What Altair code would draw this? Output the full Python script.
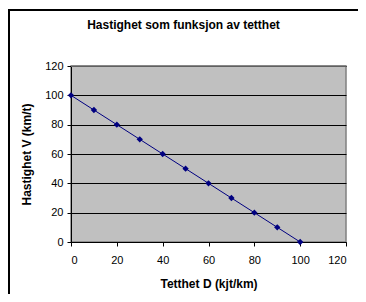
import altair as alt
import pandas as pd

density = [0, 10, 20, 30, 40, 50, 60, 70, 80, 90, 100]
speed = [100, 90, 80, 70, 60, 50, 40, 30, 20, 10, 0]
ticks = [0, 20, 40, 60, 80, 100, 120]

df = pd.DataFrame({"D": density, "V": speed})

FONT = "Liberation Sans"
NAVY = "#000080"

xscale = alt.Scale(domain=[0, 120], nice=False)
yscale = alt.Scale(domain=[0, 120], nice=False)

xenc = alt.X("D:Q", scale=xscale,
             axis=alt.Axis(values=ticks, title="Tetthet D (kjt/km)", grid=False,
                           domainColor="black", tickColor="black", tickSize=4,
                           labelFont=FONT, labelFontSize=11, labelColor="black",
                           labelPadding=8, labelOverlap=False, titleFont=FONT,
                           titleFontSize=12, titleFontWeight="bold",
                           titleColor="black", titlePadding=13))
yenc = alt.Y("V:Q", scale=yscale,
             axis=alt.Axis(values=ticks, title="Hastighet V (km/t)", grid=True,
                           gridColor="black", gridWidth=1, gridOpacity=1,
                           domainColor="black", tickColor="black", tickSize=4,
                           labelFont=FONT, labelFontSize=11, labelColor="black",
                           labelPadding=4, labelOverlap=False, titleFont=FONT,
                           titleFontSize=12, titleFontWeight="bold",
                           titleColor="black", titlePadding=11))

top_edge = alt.Chart(pd.DataFrame({"V": [120]})).mark_rule(
    color="#808080", strokeWidth=1.5).encode(y=yenc)
line = alt.Chart(df).mark_line(color=NAVY, strokeWidth=1).encode(x=xenc, y=yenc)
points = alt.Chart(df).mark_point(shape="diamond", filled=True, color=NAVY,
                                  size=40, opacity=1).encode(x=xenc, y=yenc)

border_top = alt.Chart(pd.DataFrame({"k": [0]})).mark_rule(
    color="black", strokeWidth=2).encode(
    x=alt.value(-63), x2=alt.value(300), y=alt.value(-56), y2=alt.value(-56))
border_left = alt.Chart(pd.DataFrame({"k": [0]})).mark_rule(
    color="black", strokeWidth=2).encode(
    x=alt.value(-62), x2=alt.value(-62), y=alt.value(-57), y2=alt.value(240))

chart = alt.layer(top_edge, line, points, border_top, border_left).properties(
    width=275, height=176,
    title=alt.TitleParams("Hastighet som funksjon av tetthet", font=FONT,
                          fontSize=12, fontWeight="bold", color="black",
                          anchor="middle", frame="group", dx=-25, offset=-24),
    autosize=alt.AutoSizeParams(type="none"),
    padding={"left": 63, "top": 58, "right": 12, "bottom": 52},
).configure(background="white").configure_view(
    fill="#C0C0C0", stroke="#808080", strokeWidth=1.5)

chart.save("out.html", embed_options={"renderer": "svg", "actions": False})
